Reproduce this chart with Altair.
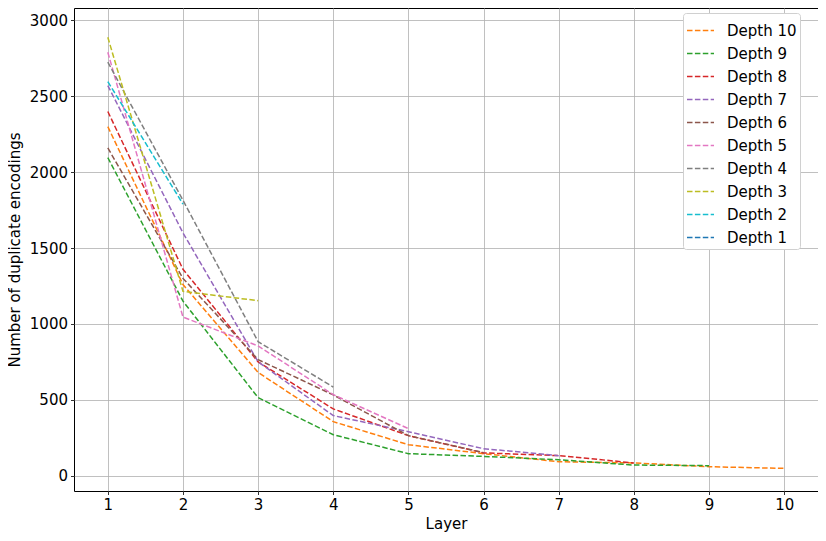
import altair as alt
import pandas as pd

depth_names = ["Depth 10", "Depth 9", "Depth 8", "Depth 7", "Depth 6",
               "Depth 5", "Depth 4", "Depth 3", "Depth 2", "Depth 1"]
colors = ["#ff7f0e", "#2ca02c", "#d62728", "#9467bd", "#8c564b",
          "#e377c2", "#7f7f7f", "#bcbd22", "#17becf", "#1f77b4"]

d10 = [2300, 1260, 680, 356, 204, 145, 92, 84, 59, 48]
d9 = [2096, 1150, 514, 270, 145, 127, 105, 70, 66]
d8 = [2400, 1360, 750, 440, 264, 150, 132, 84]
d7 = [2571, 1600, 750, 396, 290, 178, 132]
d6 = [2160, 1300, 765, 532, 264, 152]
d5 = [2790, 1045, 855, 534, 310]
d4 = [2725, 1815, 883, 584]
d3 = [2889, 1215, 1153]
d2 = [2597, 1790]
d1 = [2580]

series = [d10, d9, d8, d7, d6, d5, d4, d3, d2, d1]

rows = []
for name, vals in zip(depth_names, series):
    for i, v in enumerate(vals):
        rows.append({"Depth": name, "Layer": i + 1, "Count": v})
df = pd.DataFrame(rows)

FONT = "DejaVu Sans"

chart = alt.Chart(df).mark_line(strokeDash=[5.5, 2.4], strokeWidth=1.5).encode(
    x=alt.X("Layer:Q", title="Layer",
            scale=alt.Scale(domain=[0.55, 10.45], nice=False, zero=False),
            axis=alt.Axis(values=list(range(1, 11)), format="d")),
    y=alt.Y("Count:Q", title="Number of duplicate encodings",
            scale=alt.Scale(domain=[-101, 3082], nice=False, zero=False),
            axis=alt.Axis(values=[0, 500, 1000, 1500, 2000, 2500, 3000], format="d")),
    color=alt.Color("Depth:N", scale=alt.Scale(domain=depth_names, range=colors),
                    legend=alt.Legend(title=None, orient="none", legendX=609, legendY=5,
                                      symbolType="stroke", symbolSize=729,
                                      symbolStrokeWidth=1.5, symbolDash=[5.5, 2.4],
                                      labelFontSize=15, labelFont=FONT, labelColor="black",
                                      labelOffset=12, rowPadding=-5, padding=3,
                                      fillColor="white", strokeColor="#d0d0d0",
                                      cornerRadius=3)),
    order=alt.Order("Layer:Q"),
).properties(
    width=744, height=483,
    autosize=alt.AutoSizeParams(type="none"),
    padding={"left": 66, "top": 0, "right": 0, "bottom": 42},
).configure_view(
    stroke="black", strokeWidth=1
).configure_axis(
    grid=True, gridColor="#b0b0b0", gridWidth=0.8, gridOpacity=1,
    domain=False, tickColor="black", tickWidth=0.8, tickSize=3.5,
    labelFont=FONT, labelFontSize=15, labelColor="black", labelPadding=3,
    titleFont=FONT, titleFontSize=15, titleFontWeight="normal", titleColor="black",
).configure_axisY(titlePadding=7).configure_axisX(titlePadding=4)

chart.save("out.html", embed_options={"renderer": "svg", "actions": False})
